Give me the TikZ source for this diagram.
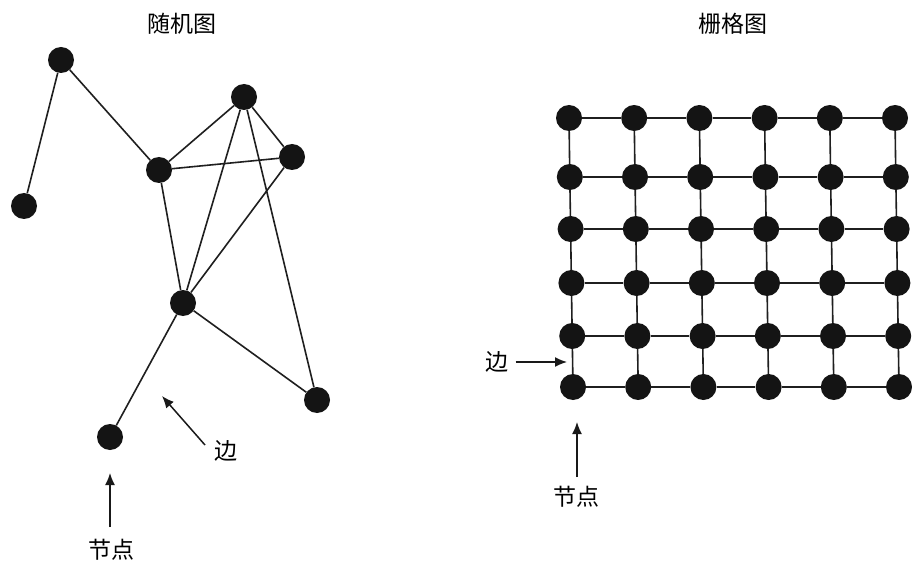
\documentclass[tikz,border=0pt]{standalone}
\usepackage{fontspec}
\setmainfont{Noto Sans CJK SC}
\usetikzlibrary{arrows.meta}
\begin{document}
\begin{tikzpicture}[x=1pt,y=-1pt,
  dot/.style={circle,fill=black!92,inner sep=0pt,minimum size=26pt},
  edge/.style={draw=black!88,line width=1.6pt},
  pointer/.style={draw=black!90,line width=1.5pt,-{Latex[length=12pt,width=10pt]}},
  lbl/.style={font=\fontsize{23}{23}\selectfont,inner sep=0pt}]
\useasboundingbox[fill=white] (0,0) rectangle (912,561);
% ---- random graph ----
\node[lbl] (t1) at (182,24) {随机图};
\node[dot] (A) at (61,60) {};
\node[dot] (B) at (24,206) {};
\node[dot] (C) at (244,97) {};
\node[dot] (D) at (159,170) {};
\node[dot] (E) at (292,157) {};
\node[dot] (F) at (183,303) {};
\node[dot] (G) at (317,400) {};
\node[dot] (H) at (110,437) {};
\draw[edge] (A) -- (B);
\draw[edge] (A) -- (D);
\draw[edge] (D) -- (C);
\draw[edge] (D) -- (E);
\draw[edge] (C) -- (E);
\draw[edge] (C) -- (F);
\draw[edge] (C) -- (G);
\draw[edge] (E) -- (F);
\draw[edge] (D) -- (F);
\draw[edge] (F) -- (G);
\draw[edge] (F) -- (H);
\node[lbl] (e1) at (226,451) {边};
\coordinate (e1tail) at (205,445);
\coordinate (e1tip) at (162,396);
\draw[pointer] (e1tail) -- (e1tip);
\node[lbl] (n1) at (111,550) {节点};
\coordinate (n1tail) at (110,527);
\coordinate (n1tip) at (110,473);
\draw[pointer] (n1tail) -- (n1tip);
% ---- grid graph ----
\node[lbl] (t2) at (733,24) {栅格图};
\foreach \r/\y in {0/118,1/177,2/229,3/283,4/336,5/387}{
  \foreach \c in {0,...,5}{
    \node[dot] (g\r\c) at ({569+65.2*\c+0.8*\r},\y) {};
  }
}
\foreach \r in {0,...,5}{
  \foreach \c [count=\cn from 1] in {0,...,4}{
    \draw[edge] (g\r\c) -- (g\r\cn);
  }
}
\foreach \r [count=\rn from 1] in {0,...,4}{
  \foreach \c in {0,...,5}{
    \draw[edge] (g\r\c) -- (g\rn\c);
  }
}
\node[lbl] (e2) at (497,362) {边};
\coordinate (e2tip) at (567,362);
\draw[pointer] (e2.east) ++(7,0) coordinate (e2tail) -- (e2tip);
\node[lbl] (n2) at (576,497) {节点};
\coordinate (n2tail) at (577,477);
\coordinate (n2tip) at (577,422);
\draw[pointer] (n2tail) -- (n2tip);
\end{tikzpicture}
\end{document}
